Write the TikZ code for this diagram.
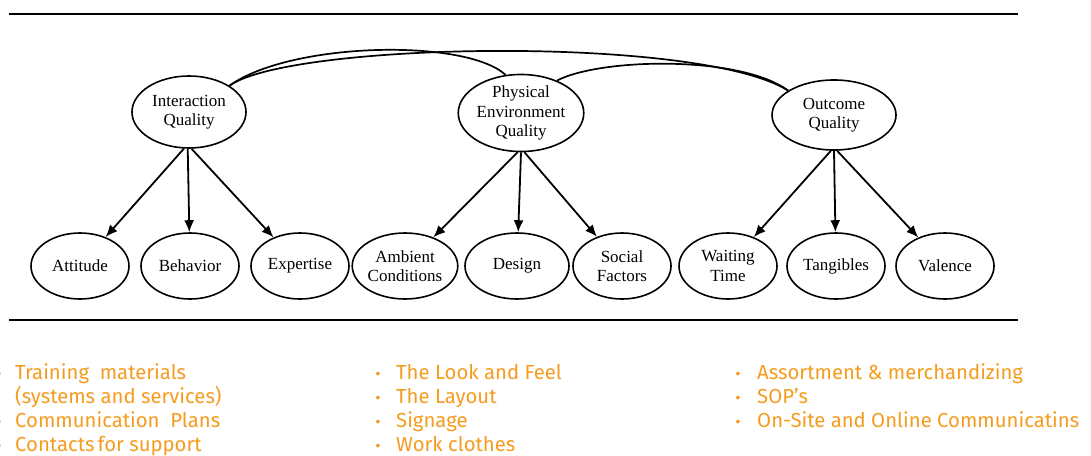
\documentclass[tikz,border=0pt]{standalone}
\usepackage{fontspec}
\setmainfont{Liberation Serif}
\newfontfamily\listfont{Fira Sans}
\usetikzlibrary{shapes.geometric,arrows.meta}
\definecolor{listorange}{RGB}{245,155,30}
\begin{document}
\begin{tikzpicture}[x=1pt,y=-1pt,
  latent/.style={ellipse,draw,line width=1.6pt,inner sep=0pt,align=center,
    font=\fontsize{17}{19.5}\selectfont},
  factor/.style={latent,minimum width=98pt,minimum height=66pt},
  corr/.style={line width=1.7pt},
  load/.style={line width=1.8pt,-{Latex[length=12pt,width=10pt]}},
  rule/.style={line width=2.2pt},
  item/.style={anchor=base west,inner sep=0pt,text=listorange,
    font=\listfont\fontsize{20.3}{24}\selectfont},
  dot/.style={anchor=base,inner sep=0pt,text=listorange,
    font=\listfont\fontsize{16}{24}\selectfont}]
\useasboundingbox (0,0) rectangle (1091,455);

% horizontal rules framing the model
\coordinate (tl) at (9,14);  \coordinate (tr) at (1018,14);
\coordinate (bl) at (9,320); \coordinate (br) at (1018,320);
\draw[rule] (tl) -- (tr);
\draw[rule] (bl) -- (br);

% second-order dimensions
\node[latent,minimum width=114pt,minimum height=72pt] (IQ) at (189,112) {Interaction\\Quality};
\node[latent,minimum width=114pt,minimum height=74pt] (PQ) at (521,113) {Physical\\Environment\\Quality};
\node[latent,minimum width=124pt,minimum height=70pt] (OQ) at (834,115) {Outcome\\Quality};

% sub-dimensions
\node[factor] (att) at (80,266)  {Attitude};
\node[factor] (beh) at (190,266) {Behavior};
\node[factor] (exp) at (300,266) {Expertise};
\node[factor,minimum width=92pt] (amb) at (405,266) {Ambient\\Conditions};
\node[factor,minimum width=104pt] (des) at (517,266) {Design};
\node[factor] (soc) at (622,266) {Social\\Factors};
\node[factor] (wai) at (728,266) {Waiting\\Time};
\node[factor] (tan) at (836,266) {Tangibles};
\node[factor] (val) at (945,266) {Valence};

% correlations between dimensions
\draw[corr] (IQ.33) .. controls (290,42) and (700,35) .. (OQ.152);
\draw[corr] (IQ.33) .. controls (290,42) and (465,38) .. (PQ.112);
\draw[corr] (PQ.42) .. controls (600,58) and (740,55) .. (OQ.152);

% loadings
\draw[load] (IQ.262) -- (att);
\draw[load] (IQ.268) -- (beh);
\draw[load] (IQ.274) -- (exp);
\draw[load] (PQ.265) -- (amb);
\draw[load] (PQ.270) -- (des);
\draw[load] (PQ.275) -- (soc);
\draw[load] (OQ.265) -- (wai);
\draw[load] (OQ.270) -- (tan);
\draw[load] (OQ.275) -- (val);

% action lists
\node[dot] (d1) at (-1,379) {•};
\node[item] (l1) at (15,379) {Training\ \ materials};
\node[item] (l2) at (15,403) {(systems and services)};
\node[dot] (d3) at (-1,427) {•};
\node[item] (l3) at (15,427) {Communication\ \ Plans};
\node[dot] (d4) at (-1,451) {•};
\node[item] (l4) at (15,451) {Contacts\hspace{3pt}for support};

\node[dot] (m1d) at (378,379) {•};
\node[item] (m1) at (396,379) {The Look and Feel};
\node[dot] (m2d) at (378,403) {•};
\node[item] (m2) at (396,403) {The Layout};
\node[dot] (m3d) at (378,427) {•};
\node[item] (m3) at (396,427) {Signage};
\node[dot] (m4d) at (378,451) {•};
\node[item] (m4) at (396,451) {Work clothes};

\node[dot] (r1d) at (738,379) {•};
\node[item] (r1) at (757,379) {Assortment \& merchandizing};
\node[dot] (r2d) at (738,403) {•};
\node[item] (r2) at (757,403) {SOP’s};
\node[dot] (r3d) at (738,427) {•};
\node[item] (r3) at (757,427) {On-Site and Online Communicatins};
\end{tikzpicture}
\end{document}
